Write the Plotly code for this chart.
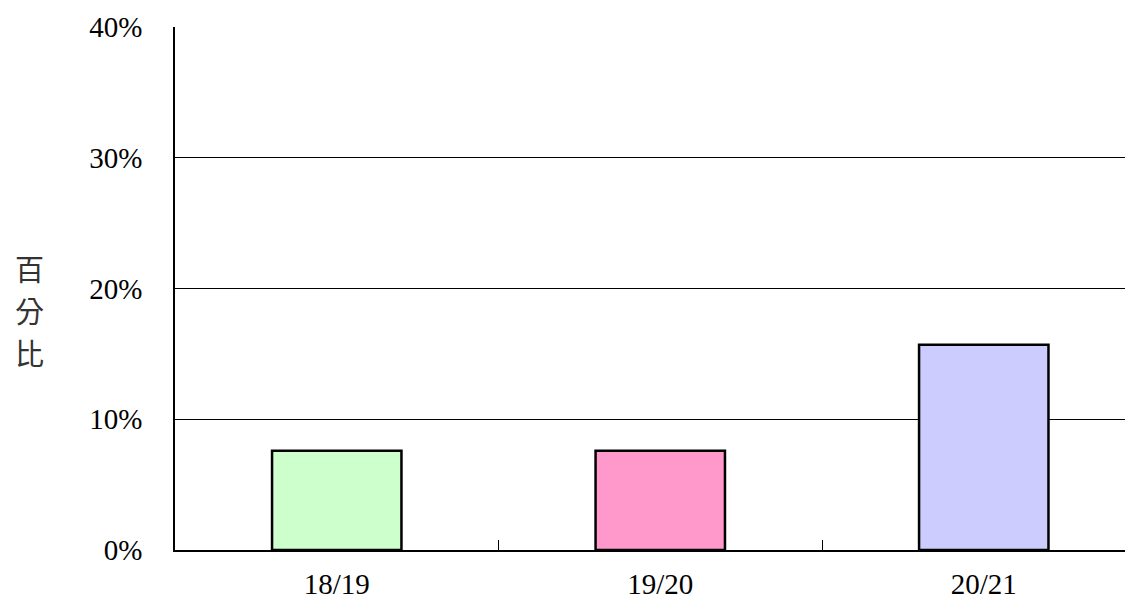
import plotly.graph_objects as go

categories = ["18/19", "19/20", "20/21"]
values = [0.076, 0.076, 0.157]
bar_colors = ["#CCFFCC", "#FF99CC", "#CCCCFF"]
y_ticks = [0, 0.1, 0.2, 0.3, 0.4]
y_tick_labels = ["0%", "10%", "20%", "30%", "40%"]
y_title_chars = ["百", "分", "比"]
y_title_pos = [0.539, 0.459, 0.379]

fig = go.Figure(
    go.Bar(
        x=categories,
        y=values,
        width=0.4,
        marker=dict(color=bar_colors, line=dict(color="black", width=2.5)),
        hoverinfo="skip",
    )
)

serif = "Liberation Serif, Times New Roman, serif"

annotations = [
    dict(
        text=ch,
        xref="paper",
        yref="paper",
        x=-0.151,
        y=yp,
        xanchor="center",
        yanchor="middle",
        showarrow=False,
        font=dict(family="Noto Sans CJK TC", size=29, color="#333333"),
    )
    for ch, yp in zip(y_title_chars, y_title_pos)
]

fig.update_layout(
    width=1133,
    height=594,
    margin=dict(l=167, r=0, t=19, b=52),
    paper_bgcolor="white",
    plot_bgcolor="white",
    showlegend=False,
    font=dict(family=serif, size=29, color="black"),
    xaxis=dict(
        type="category",
        range=[-0.5, 2.486],
        tickson="boundaries",
        ticks="inside",
        ticklen=10,
        tickcolor="black",
        tickwidth=1,
        showline=True,
        linecolor="black",
        linewidth=1.5,
        showgrid=False,
        ticklabelstandoff=7,
        tickfont=dict(family=serif, size=29, color="black"),
    ),
    yaxis=dict(
        range=[0, 0.4],
        tickvals=y_ticks,
        ticktext=y_tick_labels,
        ticks="",
        showline=True,
        linecolor="black",
        linewidth=1.5,
        showgrid=True,
        gridcolor="black",
        gridwidth=1,
        zeroline=False,
        ticklabelstandoff=25,
        tickfont=dict(family=serif, size=29, color="black"),
    ),
    annotations=annotations,
)

fig.write_html("out.html")
